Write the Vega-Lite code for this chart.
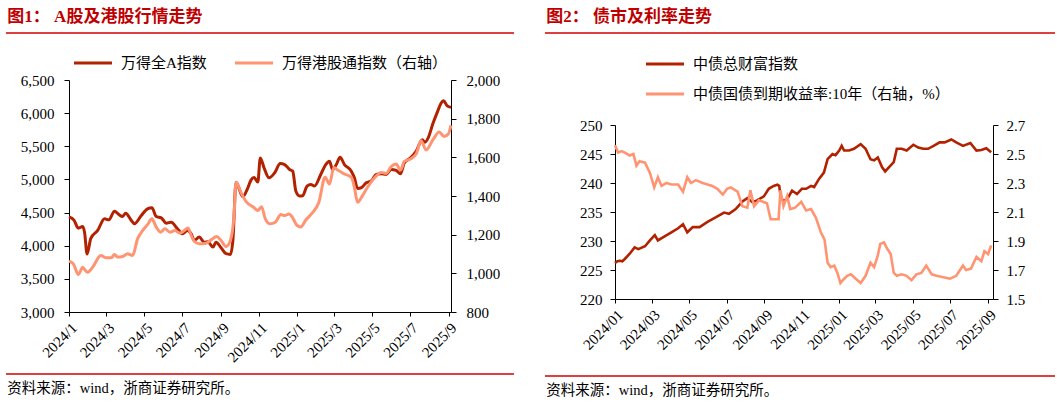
{
  "$schema": "https://vega.github.io/schema/vega-lite/v6.json",
  "padding": {"left": 5, "top": 8, "right": 0, "bottom": 0},
  "config": {
    "view": {"stroke": null},
    "axis": {"grid": false, "domainColor": "#000", "tickColor": "#000", "labelColor": "#000", "labelFont": "Liberation Serif", "labelFontSize": 15, "tickSize": 5, "labelFlush": false, "labelOverlap": false}
  },
  "datasets": {
    "la": [
      {"d":"2024/01/01","s":"万得全A指数","v":4435},{"d":"2024/01/09","s":"万得全A指数","v":4385},{"d":"2024/01/16","s":"万得全A指数","v":4265},{"d":"2024/01/23","s":"万得全A指数","v":4290},{"d":"2024/01/26","s":"万得全A指数","v":4200},{"d":"2024/01/30","s":"万得全A指数","v":3875},{"d":"2024/02/05","s":"万得全A指数","v":4110},{"d":"2024/02/16","s":"万得全A指数","v":4230},{"d":"2024/02/27","s":"万得全A指数","v":4407},{"d":"2024/03/05","s":"万得全A指数","v":4390},{"d":"2024/03/14","s":"万得全A指数","v":4521},{"d":"2024/03/21","s":"万得全A指数","v":4470},{"d":"2024/03/27","s":"万得全A指数","v":4441},{"d":"2024/04/01","s":"万得全A指数","v":4491},{"d":"2024/04/10","s":"万得全A指数","v":4381},{"d":"2024/04/15","s":"万得全A指数","v":4331},{"d":"2024/04/26","s":"万得全A指数","v":4456},{"d":"2024/05/06","s":"万得全A指数","v":4557},{"d":"2024/05/13","s":"万得全A指数","v":4572},{"d":"2024/05/20","s":"万得全A指数","v":4441},{"d":"2024/05/28","s":"万得全A指数","v":4421},{"d":"2024/06/05","s":"万得全A指数","v":4340},{"d":"2024/06/13","s":"万得全A指数","v":4355},{"d":"2024/06/23","s":"万得全A指数","v":4256},{"d":"2024/07/01","s":"万得全A指数","v":4180},{"d":"2024/07/09","s":"万得全A指数","v":4230},{"d":"2024/07/15","s":"万得全A指数","v":4180},{"d":"2024/07/20","s":"万得全A指数","v":4080},{"d":"2024/07/28","s":"万得全A指数","v":4130},{"d":"2024/08/05","s":"万得全A指数","v":4054},{"d":"2024/08/11","s":"万得全A指数","v":4060},{"d":"2024/08/19","s":"万得全A指数","v":3979},{"d":"2024/08/24","s":"万得全A指数","v":4054},{"d":"2024/09/01","s":"万得全A指数","v":3970},{"d":"2024/09/09","s":"万得全A指数","v":3880},{"d":"2024/09/16","s":"万得全A指数","v":3869},{"d":"2024/09/20","s":"万得全A指数","v":4080},{"d":"2024/09/25","s":"万得全A指数","v":4958},{"d":"2024/10/06","s":"万得全A指数","v":4740},{"d":"2024/10/13","s":"万得全A指数","v":4850},{"d":"2024/10/19","s":"万得全A指数","v":4990},{"d":"2024/10/24","s":"万得全A指数","v":5030},{"d":"2024/10/30","s":"万得全A指数","v":4960},{"d":"2024/11/03","s":"万得全A指数","v":5325},{"d":"2024/11/09","s":"万得全A指数","v":5175},{"d":"2024/11/17","s":"万得全A指数","v":5025},{"d":"2024/11/26","s":"万得全A指数","v":5100},{"d":"2024/12/05","s":"万得全A指数","v":5240},{"d":"2024/12/12","s":"万得全A指数","v":5225},{"d":"2024/12/20","s":"万得全A指数","v":5150},{"d":"2024/12/25","s":"万得全A指数","v":5125},{"d":"2024/12/30","s":"万得全A指数","v":4825},{"d":"2025/01/05","s":"万得全A指数","v":4750},{"d":"2025/01/10","s":"万得全A指数","v":4755},{"d":"2025/01/17","s":"万得全A指数","v":4900},{"d":"2025/01/23","s":"万得全A指数","v":4925},{"d":"2025/01/29","s":"万得全A指数","v":4900},{"d":"2025/02/08","s":"万得全A指数","v":5075},{"d":"2025/02/16","s":"万得全A指数","v":5225},{"d":"2025/02/22","s":"万得全A指数","v":5275},{"d":"2025/02/27","s":"万得全A指数","v":5150},{"d":"2025/03/05","s":"万得全A指数","v":5225},{"d":"2025/03/11","s":"万得全A指数","v":5335},{"d":"2025/03/18","s":"万得全A指数","v":5225},{"d":"2025/03/29","s":"万得全A指数","v":5125},{"d":"2025/04/03","s":"万得全A指数","v":5025},{"d":"2025/04/08","s":"万得全A指数","v":4865},{"d":"2025/04/14","s":"万得全A指数","v":4875},{"d":"2025/04/22","s":"万得全A指数","v":4950},{"d":"2025/04/30","s":"万得全A指数","v":4975},{"d":"2025/05/08","s":"万得全A指数","v":5075},{"d":"2025/05/16","s":"万得全A指数","v":5085},{"d":"2025/05/24","s":"万得全A指数","v":5075},{"d":"2025/06/01","s":"万得全A指数","v":5150},{"d":"2025/06/09","s":"万得全A指数","v":5135},{"d":"2025/06/16","s":"万得全A指数","v":5085},{"d":"2025/06/22","s":"万得全A指数","v":5250},{"d":"2025/07/02","s":"万得全A指数","v":5325},{"d":"2025/07/11","s":"万得全A指数","v":5425},{"d":"2025/07/21","s":"万得全A指数","v":5600},{"d":"2025/07/25","s":"万得全A指数","v":5560},{"d":"2025/07/30","s":"万得全A指数","v":5620},{"d":"2025/08/07","s":"万得全A指数","v":5842},{"d":"2025/08/15","s":"万得全A指数","v":6038},{"d":"2025/08/20","s":"万得全A指数","v":6150},{"d":"2025/08/24","s":"万得全A指数","v":6188},{"d":"2025/08/30","s":"万得全A指数","v":6110},{"d":"2025/09/05","s":"万得全A指数","v":6087}
    ],
    "lh": [
      {"d":"2024/01/01","s":"万得港股通指数（右轴）","v":1063},{"d":"2024/01/08","s":"万得港股通指数（右轴）","v":1049},{"d":"2024/01/16","s":"万得港股通指数（右轴）","v":994},{"d":"2024/01/23","s":"万得港股通指数（右轴）","v":1032},{"d":"2024/01/25","s":"万得港股通指数（右轴）","v":1024},{"d":"2024/01/31","s":"万得港股通指数（右轴）","v":1006},{"d":"2024/02/08","s":"万得港股通指数（右轴）","v":1032},{"d":"2024/02/21","s":"万得港股通指数（右轴）","v":1092},{"d":"2024/03/01","s":"万得港股通指数（右轴）","v":1080},{"d":"2024/03/09","s":"万得港股通指数（右轴）","v":1080},{"d":"2024/03/14","s":"万得港股通指数（右轴）","v":1098},{"d":"2024/03/19","s":"万得港股通指数（右轴）","v":1084},{"d":"2024/03/27","s":"万得港股通指数（右轴）","v":1087},{"d":"2024/04/04","s":"万得港股通指数（右轴）","v":1101},{"d":"2024/04/12","s":"万得港股通指数（右轴）","v":1092},{"d":"2024/04/20","s":"万得港股通指数（右轴）","v":1178},{"d":"2024/04/28","s":"万得港股通指数（右轴）","v":1221},{"d":"2024/05/06","s":"万得港股通指数（右轴）","v":1252},{"d":"2024/05/13","s":"万得港股通指数（右轴）","v":1282},{"d":"2024/05/20","s":"万得港股通指数（右轴）","v":1239},{"d":"2024/05/27","s":"万得港股通指数（右轴）","v":1213},{"d":"2024/06/03","s":"万得港股通指数（右轴）","v":1230},{"d":"2024/06/11","s":"万得港股通指数（右轴）","v":1213},{"d":"2024/06/19","s":"万得港股通指数（右轴）","v":1221},{"d":"2024/06/27","s":"万得港股通指数（右轴）","v":1208},{"d":"2024/07/04","s":"万得港股通指数（右轴）","v":1221},{"d":"2024/07/10","s":"万得港股通指数（右轴）","v":1235},{"d":"2024/07/15","s":"万得港股通指数（右轴）","v":1196},{"d":"2024/07/20","s":"万得港股通指数（右轴）","v":1166},{"d":"2024/07/28","s":"万得港股通指数（右轴）","v":1153},{"d":"2024/08/08","s":"万得港股通指数（右轴）","v":1156},{"d":"2024/08/16","s":"万得港股通指数（右轴）","v":1173},{"d":"2024/08/25","s":"万得港股通指数（右轴）","v":1190},{"d":"2024/09/01","s":"万得港股通指数（右轴）","v":1170},{"d":"2024/09/09","s":"万得港股通指数（右轴）","v":1139},{"d":"2024/09/16","s":"万得港股通指数（右轴）","v":1170},{"d":"2024/09/22","s":"万得港股通指数（右轴）","v":1307},{"d":"2024/09/25","s":"万得港股通指数（右轴）","v":1471},{"d":"2024/10/04","s":"万得港股通指数（右轴）","v":1411},{"d":"2024/10/12","s":"万得港股通指数（右轴）","v":1368},{"d":"2024/10/23","s":"万得港股通指数（右轴）","v":1342},{"d":"2024/10/30","s":"万得港股通指数（右轴）","v":1325},{"d":"2024/11/05","s":"万得港股通指数（右轴）","v":1345},{"d":"2024/11/11","s":"万得港股通指数（右轴）","v":1282},{"d":"2024/11/19","s":"万得港股通指数（右轴）","v":1256},{"d":"2024/11/27","s":"万得港股通指数（右轴）","v":1264},{"d":"2024/12/06","s":"万得港股通指数（右轴）","v":1304},{"d":"2024/12/12","s":"万得港股通指数（右轴）","v":1299},{"d":"2024/12/19","s":"万得港股通指数（右轴）","v":1307},{"d":"2024/12/25","s":"万得港股通指数（右轴）","v":1287},{"d":"2025/01/01","s":"万得港股通指数（右轴）","v":1247},{"d":"2025/01/07","s":"万得港股通指数（右轴）","v":1240},{"d":"2025/01/15","s":"万得港股通指数（右轴）","v":1276},{"d":"2025/01/25","s":"万得港股通指数（右轴）","v":1311},{"d":"2025/02/05","s":"万得港股通指数（右轴）","v":1368},{"d":"2025/02/15","s":"万得港股通指数（右轴）","v":1497},{"d":"2025/02/22","s":"万得港股通指数（右轴）","v":1462},{"d":"2025/03/01","s":"万得港股通指数（右轴）","v":1548},{"d":"2025/03/07","s":"万得港股通指数（右轴）","v":1534},{"d":"2025/03/18","s":"万得港股通指数（右轴）","v":1514},{"d":"2025/03/29","s":"万得港股通指数（右轴）","v":1497},{"d":"2025/04/03","s":"万得港股通指数（右轴）","v":1445},{"d":"2025/04/08","s":"万得港股通指数（右轴）","v":1368},{"d":"2025/04/16","s":"万得港股通指数（右轴）","v":1402},{"d":"2025/04/24","s":"万得港股通指数（右轴）","v":1445},{"d":"2025/05/05","s":"万得港股通指数（右轴）","v":1493},{"d":"2025/05/16","s":"万得港股通指数（右轴）","v":1522},{"d":"2025/05/24","s":"万得港股通指数（右轴）","v":1517},{"d":"2025/06/01","s":"万得港股通指数（右轴）","v":1552},{"d":"2025/06/09","s":"万得港股通指数（右轴）","v":1565},{"d":"2025/06/16","s":"万得港股通指数（右轴）","v":1534},{"d":"2025/06/22","s":"万得港股通指数（右轴）","v":1579},{"d":"2025/07/02","s":"万得港股通指数（右轴）","v":1591},{"d":"2025/07/11","s":"万得港股通指数（右轴）","v":1617},{"d":"2025/07/19","s":"万得港股通指数（右轴）","v":1686},{"d":"2025/07/27","s":"万得港股通指数（右轴）","v":1638},{"d":"2025/08/07","s":"万得港股通指数（右轴）","v":1691},{"d":"2025/08/17","s":"万得港股通指数（右轴）","v":1731},{"d":"2025/08/25","s":"万得港股通指数（右轴）","v":1708},{"d":"2025/09/01","s":"万得港股通指数（右轴）","v":1722},{"d":"2025/09/05","s":"万得港股通指数（右轴）","v":1765}
    ],
    "rb": [
      {"d":"2024/01/01","s":"中债总财富指数","v":226.2},{"d":"2024/01/05","s":"中债总财富指数","v":226.5},{"d":"2024/01/09","s":"中债总财富指数","v":226.6},{"d":"2024/01/13","s":"中债总财富指数","v":226.5},{"d":"2024/01/17","s":"中债总财富指数","v":226.9},{"d":"2024/01/25","s":"中债总财富指数","v":227.8},{"d":"2024/02/02","s":"中债总财富指数","v":228.9},{"d":"2024/02/08","s":"中债总财富指数","v":228.6},{"d":"2024/02/19","s":"中债总财富指数","v":229.1},{"d":"2024/02/27","s":"中债总财富指数","v":230.1},{"d":"2024/03/06","s":"中债总财富指数","v":231.0},{"d":"2024/03/11","s":"中债总财富指数","v":230.1},{"d":"2024/03/22","s":"中债总财富指数","v":230.8},{"d":"2024/04/02","s":"中债总财富指数","v":231.5},{"d":"2024/04/13","s":"中债总财富指数","v":232.2},{"d":"2024/04/21","s":"中债总财富指数","v":232.9},{"d":"2024/04/28","s":"中债总财富指数","v":231.5},{"d":"2024/05/07","s":"中债总财富指数","v":232.4},{"d":"2024/05/18","s":"中债总财富指数","v":232.4},{"d":"2024/05/31","s":"中债总财富指数","v":233.3},{"d":"2024/06/14","s":"中债总财富指数","v":234.1},{"d":"2024/06/27","s":"中债总财富指数","v":234.9},{"d":"2024/07/05","s":"中债总财富指数","v":234.7},{"d":"2024/07/16","s":"中债总财富指数","v":235.5},{"d":"2024/07/27","s":"中债总财富指数","v":236.8},{"d":"2024/08/04","s":"中债总财富指数","v":237.4},{"d":"2024/08/12","s":"中债总财富指数","v":236.7},{"d":"2024/08/20","s":"中债总财富指数","v":237.0},{"d":"2024/08/31","s":"中债总财富指数","v":237.7},{"d":"2024/09/08","s":"中债总财富指数","v":239.0},{"d":"2024/09/16","s":"中债总财富指数","v":239.5},{"d":"2024/09/22","s":"中债总财富指数","v":239.7},{"d":"2024/09/25","s":"中债总财富指数","v":239.5},{"d":"2024/09/28","s":"中债总财富指数","v":237.3},{"d":"2024/10/02","s":"中债总财富指数","v":236.9},{"d":"2024/10/08","s":"中债总财富指数","v":237.2},{"d":"2024/10/16","s":"中债总财富指数","v":238.7},{"d":"2024/10/24","s":"中债总财富指数","v":238.1},{"d":"2024/11/01","s":"中债总财富指数","v":239.0},{"d":"2024/11/08","s":"中债总财富指数","v":239.0},{"d":"2024/11/16","s":"中债总财富指数","v":239.5},{"d":"2024/11/21","s":"中债总财富指数","v":239.3},{"d":"2024/11/29","s":"中债总财富指数","v":240.7},{"d":"2024/12/07","s":"中债总财富指数","v":241.8},{"d":"2024/12/13","s":"中债总财富指数","v":244.1},{"d":"2024/12/21","s":"中债总财富指数","v":245.0},{"d":"2024/12/26","s":"中债总财富指数","v":244.8},{"d":"2025/01/01","s":"中债总财富指数","v":245.6},{"d":"2025/01/05","s":"中债总财富指数","v":246.4},{"d":"2025/01/09","s":"中债总财富指数","v":245.6},{"d":"2025/01/17","s":"中债总财富指数","v":245.6},{"d":"2025/01/25","s":"中债总财富指数","v":245.9},{"d":"2025/02/05","s":"中债总财富指数","v":246.7},{"d":"2025/02/13","s":"中债总财富指数","v":245.9},{"d":"2025/02/21","s":"中债总财富指数","v":244.1},{"d":"2025/02/27","s":"中债总财富指数","v":243.9},{"d":"2025/03/05","s":"中债总财富指数","v":244.4},{"d":"2025/03/12","s":"中债总财富指数","v":242.7},{"d":"2025/03/17","s":"中债总财富指数","v":242.0},{"d":"2025/03/23","s":"中债总财富指数","v":242.7},{"d":"2025/03/31","s":"中债总财富指数","v":243.6},{"d":"2025/04/05","s":"中债总财富指数","v":245.9},{"d":"2025/04/13","s":"中债总财富指数","v":245.9},{"d":"2025/04/21","s":"中债总财富指数","v":245.6},{"d":"2025/05/02","s":"中债总财富指数","v":246.6},{"d":"2025/05/10","s":"中债总财富指数","v":246.1},{"d":"2025/05/18","s":"中债总财富指数","v":245.9},{"d":"2025/05/26","s":"中债总财富指数","v":245.9},{"d":"2025/06/04","s":"中债总财富指数","v":246.4},{"d":"2025/06/14","s":"中债总财富指数","v":247.0},{"d":"2025/06/22","s":"中债总财富指数","v":247.0},{"d":"2025/07/03","s":"中债总财富指数","v":247.5},{"d":"2025/07/11","s":"中债总财富指数","v":247.0},{"d":"2025/07/22","s":"中债总财富指数","v":246.4},{"d":"2025/08/03","s":"中债总财富指数","v":246.9},{"d":"2025/08/13","s":"中债总财富指数","v":245.6},{"d":"2025/08/21","s":"中债总财富指数","v":245.7},{"d":"2025/08/29","s":"中债总财富指数","v":246.0},{"d":"2025/09/06","s":"中债总财富指数","v":245.3}
    ],
    "rr": [
      {"d":"2024/01/01","s":"中债国债到期收益率:10年（右轴，%）","v":2.56},{"d":"2024/01/06","s":"中债国债到期收益率:10年（右轴，%）","v":2.51},{"d":"2024/01/12","s":"中债国债到期收益率:10年（右轴，%）","v":2.52},{"d":"2024/01/17","s":"中债国债到期收益率:10年（右轴，%）","v":2.51},{"d":"2024/01/25","s":"中债国债到期收益率:10年（右轴，%）","v":2.49},{"d":"2024/01/31","s":"中债国债到期收益率:10年（右轴，%）","v":2.50},{"d":"2024/02/05","s":"中债国债到期收益率:10年（右轴，%）","v":2.42},{"d":"2024/02/10","s":"中债国债到期收益率:10年（右轴，%）","v":2.45},{"d":"2024/02/19","s":"中债国债到期收益率:10年（右轴，%）","v":2.44},{"d":"2024/02/27","s":"中债国债到期收益率:10年（右轴，%）","v":2.37},{"d":"2024/03/05","s":"中债国债到期收益率:10年（右轴，%）","v":2.27},{"d":"2024/03/11","s":"中债国债到期收益率:10年（右轴，%）","v":2.34},{"d":"2024/03/17","s":"中债国债到期收益率:10年（右轴，%）","v":2.28},{"d":"2024/03/25","s":"中债国债到期收益率:10年（右轴，%）","v":2.30},{"d":"2024/04/02","s":"中债国债到期收益率:10年（右轴，%）","v":2.29},{"d":"2024/04/13","s":"中债国债到期收益率:10年（右轴，%）","v":2.29},{"d":"2024/04/21","s":"中债国债到期收益率:10年（右轴，%）","v":2.24},{"d":"2024/04/28","s":"中债国债到期收益率:10年（右轴，%）","v":2.34},{"d":"2024/05/04","s":"中债国债到期收益率:10年（右轴，%）","v":2.30},{"d":"2024/05/12","s":"中债国债到期收益率:10年（右轴，%）","v":2.32},{"d":"2024/05/23","s":"中债国债到期收益率:10年（右轴，%）","v":2.30},{"d":"2024/05/31","s":"中债国债到期收益率:10年（右轴，%）","v":2.29},{"d":"2024/06/08","s":"中债国债到期收益率:10年（右轴，%）","v":2.28},{"d":"2024/06/16","s":"中债国债到期收益率:10年（右轴，%）","v":2.26},{"d":"2024/06/25","s":"中债国债到期收益率:10年（右轴，%）","v":2.22},{"d":"2024/07/02","s":"中债国债到期收益率:10年（右轴，%）","v":2.26},{"d":"2024/07/08","s":"中债国债到期收益率:10年（右轴，%）","v":2.27},{"d":"2024/07/19","s":"中债国债到期收益率:10年（右轴，%）","v":2.24},{"d":"2024/07/27","s":"中债国债到期收益率:10年（右轴，%）","v":2.14},{"d":"2024/08/04","s":"中债国债到期收益率:10年（右轴，%）","v":2.13},{"d":"2024/08/09","s":"中债国债到期收益率:10年（右轴，%）","v":2.25},{"d":"2024/08/15","s":"中债国债到期收益率:10年（右轴，%）","v":2.14},{"d":"2024/08/23","s":"中债国债到期收益率:10年（右轴，%）","v":2.18},{"d":"2024/09/05","s":"中债国债到期收益率:10年（右轴，%）","v":2.16},{"d":"2024/09/11","s":"中债国债到期收益率:10年（右轴，%）","v":2.05},{"d":"2024/09/19","s":"中债国债到期收益率:10年（右轴，%）","v":2.05},{"d":"2024/09/24","s":"中债国债到期收益率:10年（右轴，%）","v":2.05},{"d":"2024/09/27","s":"中债国债到期收益率:10年（右轴，%）","v":2.25},{"d":"2024/10/02","s":"中债国债到期收益率:10年（右轴，%）","v":2.14},{"d":"2024/10/08","s":"中债国债到期收益率:10年（右轴，%）","v":2.21},{"d":"2024/10/13","s":"中债国债到期收益率:10年（右轴，%）","v":2.12},{"d":"2024/10/21","s":"中债国债到期收益率:10年（右轴，%）","v":2.13},{"d":"2024/10/31","s":"中债国债到期收益率:10年（右轴，%）","v":2.17},{"d":"2024/11/08","s":"中债国债到期收益率:10年（右轴，%）","v":2.11},{"d":"2024/11/16","s":"中债国债到期收益率:10年（右轴，%）","v":2.12},{"d":"2024/11/24","s":"中债国债到期收益率:10年（右轴，%）","v":2.06},{"d":"2024/12/02","s":"中债国债到期收益率:10年（右轴，%）","v":1.96},{"d":"2024/12/08","s":"中债国债到期收益率:10年（右轴，%）","v":1.91},{"d":"2024/12/13","s":"中债国债到期收益率:10年（右轴，%）","v":1.75},{"d":"2024/12/18","s":"中债国债到期收益率:10年（右轴，%）","v":1.72},{"d":"2024/12/24","s":"中债国债到期收益率:10年（右轴，%）","v":1.73},{"d":"2024/12/29","s":"中债国债到期收益率:10年（右轴，%）","v":1.68},{"d":"2025/01/03","s":"中债国债到期收益率:10年（右轴，%）","v":1.61},{"d":"2025/01/09","s":"中债国债到期收益率:10年（右轴，%）","v":1.64},{"d":"2025/01/14","s":"中债国债到期收益率:10年（右轴，%）","v":1.66},{"d":"2025/01/20","s":"中债国债到期收益率:10年（右轴，%）","v":1.67},{"d":"2025/01/28","s":"中债国债到期收益率:10年（右轴，%）","v":1.64},{"d":"2025/02/05","s":"中债国债到期收益率:10年（右轴，%）","v":1.61},{"d":"2025/02/13","s":"中债国债到期收益率:10年（右轴，%）","v":1.66},{"d":"2025/02/21","s":"中债国债到期收益率:10年（右轴，%）","v":1.75},{"d":"2025/02/27","s":"中债国债到期收益率:10年（右轴，%）","v":1.72},{"d":"2025/03/05","s":"中债国债到期收益率:10年（右轴，%）","v":1.80},{"d":"2025/03/09","s":"中债国债到期收益率:10年（右轴，%）","v":1.88},{"d":"2025/03/15","s":"中债国债到期收益率:10年（右轴，%）","v":1.89},{"d":"2025/03/20","s":"中债国债到期收益率:10年（右轴，%）","v":1.85},{"d":"2025/03/26","s":"中债国债到期收益率:10年（右轴，%）","v":1.81},{"d":"2025/03/31","s":"中债国债到期收益率:10年（右轴，%）","v":1.68},{"d":"2025/04/05","s":"中债国债到期收益率:10年（右轴，%）","v":1.66},{"d":"2025/04/13","s":"中债国债到期收益率:10年（右轴，%）","v":1.67},{"d":"2025/04/21","s":"中债国债到期收益率:10年（右轴，%）","v":1.66},{"d":"2025/04/29","s":"中债国债到期收益率:10年（右轴，%）","v":1.63},{"d":"2025/05/07","s":"中债国债到期收益率:10年（右轴，%）","v":1.67},{"d":"2025/05/15","s":"中债国债到期收益率:10年（右轴，%）","v":1.68},{"d":"2025/05/23","s":"中债国债到期收益率:10年（右轴，%）","v":1.73},{"d":"2025/06/01","s":"中债国债到期收益率:10年（右轴，%）","v":1.67},{"d":"2025/06/09","s":"中债国债到期收益率:10年（右轴，%）","v":1.66},{"d":"2025/06/20","s":"中债国债到期收益率:10年（右轴，%）","v":1.65},{"d":"2025/07/01","s":"中债国债到期收益率:10年（右轴，%）","v":1.64},{"d":"2025/07/11","s":"中债国债到期收益率:10年（右轴，%）","v":1.66},{"d":"2025/07/22","s":"中债国债到期收益率:10年（右轴，%）","v":1.73},{"d":"2025/07/27","s":"中债国债到期收益率:10年（右轴，%）","v":1.70},{"d":"2025/08/04","s":"中债国债到期收益率:10年（右轴，%）","v":1.71},{"d":"2025/08/13","s":"中债国债到期收益率:10年（右轴，%）","v":1.79},{"d":"2025/08/21","s":"中债国债到期收益率:10年（右轴，%）","v":1.76},{"d":"2025/08/26","s":"中债国债到期收益率:10年（右轴，%）","v":1.83},{"d":"2025/09/01","s":"中债国债到期收益率:10年（右轴，%）","v":1.81},{"d":"2025/09/06","s":"中债国债到期收益率:10年（右轴，%）","v":1.87}
    ]
  },
  "spacing": 29,
  "resolve": {"scale": {"color": "independent"}, "legend": {"color": "independent"}},
  "hconcat": [
    {
      "spacing": 18,
      "resolve": {"scale": {"color": "independent"}, "legend": {"color": "independent"}},
      "vconcat": [
        {
          "width": 508, "height": 1,
          "data": {"values": [{}]},
          "title": {"text": "图1：  A股及港股行情走势", "anchor": "start", "orient": "top", "fontSize": 17, "fontWeight": "bold", "font": "Liberation Serif, Noto Sans CJK SC", "color": "#C00000", "offset": -11, "baseline": "bottom", "dx": 2},
          "mark": {"type": "rule", "color": "#D00000", "strokeWidth": 1.3},
          "encoding": {
            "x": {"datum": 0, "type": "quantitative", "scale": {"domain": [0, 1]}, "axis": null},
            "x2": {"datum": 1},
            "y": {"datum": 1, "type": "quantitative", "scale": {"domain": [0, 1]}, "axis": null}
          }
        },
        {
          "spacing": 8,
          "resolve": {"scale": {"color": "independent"}, "legend": {"color": "independent"}},
          "vconcat": [
            {
              "width": 508, "height": 232,
              "resolve": {"scale": {"y": "independent"}},
              "layer": [
                {
                  "data": {"name": "la"},
                  "mark": {"type": "line", "strokeWidth": 3, "interpolate": "monotone"},
                  "encoding": {
                    "x": {"field": "d", "type": "temporal", "title": null,
                      "scale": {"domain": [{"year": 2024, "month": 1, "date": 1}, {"year": 2025, "month": 9, "date": 5}], "range": [63, 445]},
                      "axis": {"values": [{"year": 2024, "month": 1, "date": 1}, {"year": 2024, "month": 3, "date": 1}, {"year": 2024, "month": 5, "date": 1}, {"year": 2024, "month": 7, "date": 1}, {"year": 2024, "month": 9, "date": 1}, {"year": 2024, "month": 11, "date": 1}, {"year": 2025, "month": 1, "date": 1}, {"year": 2025, "month": 3, "date": 1}, {"year": 2025, "month": 5, "date": 1}, {"year": 2025, "month": 7, "date": 1}, {"year": 2025, "month": 9, "date": 1}],
                        "format": "%Y/%-m", "labelAngle": -45, "labelAlign": "right", "labelBaseline": "top", "labelPadding": 4, "tickSize": 4}},
                    "y": {"field": "v", "type": "quantitative", "title": null, "scale": {"domain": [3000, 6500]},
                      "axis": {"orient": "left", "offset": -63, "values": [3000, 3500, 4000, 4500, 5000, 5500, 6000, 6500], "format": ",.0f", "labelPadding": 10}},
                    "color": {"field": "s", "type": "nominal",
                      "scale": {"domain": ["万得全A指数", "万得港股通指数（右轴）"], "range": ["#B22200", "#FF9473"]},
                      "legend": {"orient": "none", "legendX": 76, "legendY": -28, "direction": "horizontal", "title": null, "symbolType": "M-2,0H2", "symbolSize": 361, "symbolStrokeWidth": 3, "labelFontSize": 15, "labelFont": "Liberation Serif, Noto Sans CJK SC", "labelColor": "#000", "labelOffset": 17, "columnPadding": 22, "padding": 0, "labelLimit": 400}}
                  }
                },
                {
                  "data": {"name": "lh"},
                  "mark": {"type": "line", "strokeWidth": 3, "interpolate": "monotone"},
                  "encoding": {
                    "x": {"field": "d", "type": "temporal"},
                    "y": {"field": "v", "type": "quantitative", "title": null, "scale": {"domain": [800, 2000]},
                      "axis": {"orient": "right", "offset": -63, "values": [800, 1000, 1200, 1400, 1600, 1800, 2000], "format": ",.0f", "labelPadding": 10}},
                    "color": {"field": "s", "type": "nominal"}
                  }
                }
              ]
            },
            {
              "width": 508, "height": 1,
              "data": {"values": [{}]},
              "title": {"text": "资料来源：wind，浙商证券研究所。", "anchor": "start", "orient": "bottom", "fontSize": 14.5, "fontWeight": "normal", "font": "Liberation Serif, Noto Sans CJK SC", "color": "#000", "offset": 7, "baseline": "top", "dx": 2},
              "mark": {"type": "rule", "color": "#D00000", "strokeWidth": 1.3},
              "encoding": {
                "x": {"datum": 0, "type": "quantitative", "scale": {"domain": [0, 1]}, "axis": null},
                "x2": {"datum": 1},
                "y": {"datum": 1, "type": "quantitative", "scale": {"domain": [0, 1]}, "axis": null}
              }
            }
          ]
        }
      ]
    },
    {
      "spacing": 19,
      "resolve": {"scale": {"color": "independent"}, "legend": {"color": "independent"}},
      "vconcat": [
        {
          "width": 510, "height": 1,
          "data": {"values": [{}]},
          "title": {"text": "图2：  债市及利率走势", "anchor": "start", "orient": "top", "fontSize": 17, "fontWeight": "bold", "font": "Liberation Serif, Noto Sans CJK SC", "color": "#C00000", "offset": -11, "baseline": "bottom", "dx": 2},
          "mark": {"type": "rule", "color": "#D00000", "strokeWidth": 1.3},
          "encoding": {
            "x": {"datum": 0, "type": "quantitative", "scale": {"domain": [0, 1]}, "axis": null},
            "x2": {"datum": 1},
            "y": {"datum": 1, "type": "quantitative", "scale": {"domain": [0, 1]}, "axis": null}
          }
        },
        {
          "spacing": 22,
          "resolve": {"scale": {"color": "independent"}, "legend": {"color": "independent"}},
          "vconcat": [
            {
              "width": 510, "height": 174,
              "resolve": {"scale": {"y": "independent"}},
              "layer": [
                {
                  "data": {"name": "rb"},
                  "mark": {"type": "line", "strokeWidth": 2.6},
                  "encoding": {
                    "x": {"field": "d", "type": "temporal", "title": null,
                      "scale": {"domain": [{"year": 2024, "month": 1, "date": 1}, {"year": 2025, "month": 9, "date": 9}], "range": [70, 448]},
                      "axis": {"values": [{"year": 2024, "month": 1, "date": 1}, {"year": 2024, "month": 3, "date": 1}, {"year": 2024, "month": 5, "date": 1}, {"year": 2024, "month": 7, "date": 1}, {"year": 2024, "month": 9, "date": 1}, {"year": 2024, "month": 11, "date": 1}, {"year": 2025, "month": 1, "date": 1}, {"year": 2025, "month": 3, "date": 1}, {"year": 2025, "month": 5, "date": 1}, {"year": 2025, "month": 7, "date": 1}, {"year": 2025, "month": 9, "date": 1}],
                        "format": "%Y/%m", "labelAngle": -45, "labelAlign": "right", "labelBaseline": "top", "labelPadding": 4, "tickSize": 4}},
                    "y": {"field": "v", "type": "quantitative", "title": null, "scale": {"domain": [220, 250]},
                      "axis": {"orient": "left", "offset": -70, "values": [220, 225, 230, 235, 240, 245, 250], "format": "d", "labelPadding": 8}},
                    "color": {"field": "s", "type": "nominal",
                      "scale": {"domain": ["中债总财富指数", "中债国债到期收益率:10年（右轴，%）"], "range": ["#B22200", "#FF9473"]},
                      "legend": {"orient": "none", "legendX": 109, "legendY": -72, "direction": "vertical", "columns": 1, "title": null, "symbolType": "M-2,0H2", "symbolSize": 361, "symbolStrokeWidth": 3, "labelFontSize": 15, "labelFont": "Liberation Serif, Noto Sans CJK SC", "labelColor": "#000", "labelOffset": 17, "rowPadding": 11, "padding": 0, "labelLimit": 400}}
                  }
                },
                {
                  "data": {"name": "rr"},
                  "mark": {"type": "line", "strokeWidth": 2.6},
                  "encoding": {
                    "x": {"field": "d", "type": "temporal"},
                    "y": {"field": "v", "type": "quantitative", "title": null, "scale": {"domain": [1.5, 2.7]},
                      "axis": {"orient": "right", "offset": -62, "values": [1.5, 1.7, 1.9, 2.1, 2.3, 2.5, 2.7], "format": ".1f", "labelPadding": 8}},
                    "color": {"field": "s", "type": "nominal"}
                  }
                }
              ]
            },
            {
              "width": 510, "height": 1,
              "data": {"values": [{}]},
              "title": {"text": "资料来源：wind，浙商证券研究所。", "anchor": "start", "orient": "bottom", "fontSize": 14.5, "fontWeight": "normal", "font": "Liberation Serif, Noto Sans CJK SC", "color": "#000", "offset": 7, "baseline": "top", "dx": 2},
              "mark": {"type": "rule", "color": "#D00000", "strokeWidth": 1.3},
              "encoding": {
                "x": {"datum": 0, "type": "quantitative", "scale": {"domain": [0, 1]}, "axis": null},
                "x2": {"datum": 1},
                "y": {"datum": 1, "type": "quantitative", "scale": {"domain": [0, 1]}, "axis": null}
              }
            }
          ]
        }
      ]
    }
  ]
}
